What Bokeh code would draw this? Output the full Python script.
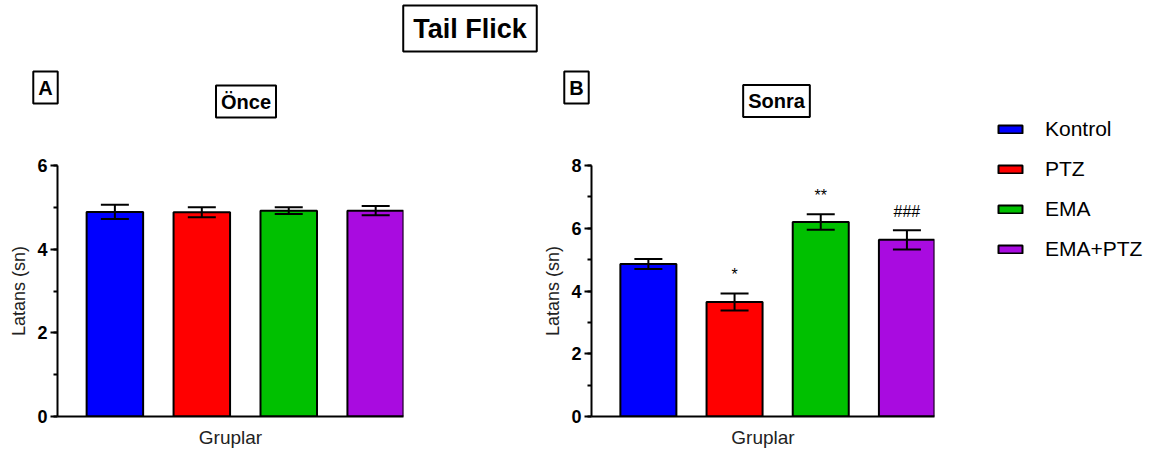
from bokeh.plotting import figure
from bokeh.models import (Range1d, SingleIntervalTicker, FixedTicker, Label,
                          Whisker, TeeHead, ColumnDataSource)
from bokeh.layouts import row, column
from bokeh.embed import file_html
from bokeh.resources import INLINE
from bokeh.core.properties import value

# ---------------- data ----------------
groups = ["Kontrol", "PTZ", "EMA", "EMA+PTZ"]
colors = ["#0000FF", "#FF0000", "#00C000", "#A90BE0"]
once_mean = [4.89, 4.88, 4.92, 4.92]
once_sem = [0.17, 0.12, 0.08, 0.11]
sonra_mean = [4.86, 3.65, 6.20, 5.63]
sonra_sem = [0.16, 0.27, 0.25, 0.31]
sonra_sig = ["", "*", "**", "###"]
once_sig = ["", "", "", ""]

FONT = "Liberation Sans"
XR = (-0.66, 3.32)
HEAD_H = 150
PANEL_H = 300
TOTAL_H = HEAD_H + PANEL_H


def make_panel(means, sems, sig, ymax, width, left, right):
    p = figure(width=width, height=PANEL_H, x_range=Range1d(*XR),
               y_range=Range1d(0, ymax), output_backend="svg",
               toolbar_location=None, min_border_left=left,
               min_border_right=right, min_border_top=15,
               min_border_bottom=33)
    p.outline_line_color = None
    p.grid.visible = False
    p.background_fill_color = None
    p.border_fill_color = None

    src = ColumnDataSource(dict(
        x=list(range(len(groups))), group=groups, color=colors,
        mean=means, upper=[m + s for m, s in zip(means, sems)],
        lower=[m - s for m, s in zip(means, sems)], sig=sig))

    p.vbar(x="x", top="mean", bottom=0, width=0.65, fill_color="color",
           line_color="black", line_width=2, source=src)

    w = Whisker(base="x", upper="upper", lower="lower", source=src,
                line_width=2, line_color="black", level="overlay",
                upper_head=TeeHead(size=28, line_width=2, line_color="black"),
                lower_head=TeeHead(size=28, line_width=2, line_color="black"))
    p.add_layout(w)

    p.text(x="x", y="upper", text="sig", source=src, text_align="center",
           text_baseline="middle", y_offset=-19,
           text_font=value(FONT), text_font_size="16px", text_color="black")

    ya = p.yaxis[0]
    ya.ticker = SingleIntervalTicker(interval=2, num_minor_ticks=2)
    ya.axis_line_width = 2
    ya.major_tick_line_width = 2
    ya.minor_tick_line_width = 2
    ya.major_tick_out = 7
    ya.major_tick_in = 0
    ya.minor_tick_out = 4
    ya.minor_tick_in = 0
    ya.major_label_standoff = 3
    ya.major_label_text_font = FONT
    ya.major_label_text_font_style = "bold"
    ya.major_label_text_font_size = "18px"
    ya.major_label_text_color = "black"
    ya.axis_label = "Latans (sn)"
    ya.axis_label_text_font = FONT
    ya.axis_label_text_font_style = "normal"
    ya.axis_label_text_font_size = "18px"
    ya.axis_label_text_color = "#222222"
    ya.axis_label_standoff = 5

    xa = p.xaxis[0]
    xa.ticker = FixedTicker(ticks=[])
    xa.axis_line_width = 2
    xa.major_tick_out = 0
    xa.major_tick_in = 0
    xa.minor_tick_out = 0
    xa.minor_tick_in = 0
    xa.axis_label = "Gruplar"
    xa.axis_label_text_font = FONT
    xa.axis_label_text_font_style = "normal"
    xa.axis_label_text_font_size = "19px"
    xa.axis_label_text_color = "#222222"
    xa.axis_label_standoff = 10
    return p


pA = make_panel(once_mean, once_sem, once_sig, 6, 540, 57, 137)
pB = make_panel(sonra_mean, sonra_sem, sonra_sig, 8, 420, 47, 26)

# ---------------- header with boxed titles ----------------
head = figure(width=960, height=HEAD_H, x_range=Range1d(0, 960),
              y_range=Range1d(HEAD_H, 0), output_backend="svg",
              toolbar_location=None, min_border=0,
              x_axis_location=None, y_axis_location=None)
head.outline_line_color = None
head.grid.visible = False

header_texts = [("Tail Flick", 469.5, 28, "27px", (10, 8)),
                ("A", 45, 87, "20px", 5),
                ("Önce", 245.5, 101, "20px", 5),
                ("B", 576, 87, "20px", 5),
                ("Sonra", 776, 100.5, "20px", 5)]
for txt, hx, hy, size, pad in header_texts:
    head.add_layout(Label(x=hx, y=hy, text=txt, text_font=FONT,
                          text_font_size=size, text_font_style="bold",
                          text_color="black",
                          text_align="center", text_baseline="middle",
                          border_line_color="black", border_line_width=2,
                          background_fill_color="white", padding=pad))

# ---------------- legend ----------------
# legend-only renderer: bar tops are NaN so no bar is drawn, only swatches
leg = figure(width=208, height=TOTAL_H, x_range=Range1d(0, 1),
             y_range=Range1d(0, 1), output_backend="svg",
             toolbar_location=None, min_border_left=35, min_border_top=117,
             min_border_right=0, min_border_bottom=0,
             x_axis_location=None, y_axis_location=None)
leg.outline_line_color = None
leg.grid.visible = False
leg.background_fill_color = None
leg.border_fill_color = None
leg_src = ColumnDataSource(dict(x=list(range(len(groups))), group=groups,
                                color=colors,
                                top=[float("nan")] * len(groups)))
leg.vbar(x="x", top="top", bottom=0, width=0.65, fill_color="color",
         line_color="black", line_width=2, source=leg_src,
         legend_field="group")
lg = leg.legend[0]
lg.location = "top_left"
lg.padding = 0
lg.margin = 0
lg.spacing = 16
lg.glyph_width = 30
lg.glyph_height = 10
lg.label_standoff = 20
lg.label_text_font = FONT
lg.label_text_font_size = "21px"
lg.label_text_color = "black"
lg.border_line_color = None
lg.background_fill_alpha = 0

layout = row(column(head, row(pA, pB, spacing=0), spacing=0), leg, spacing=0)
open("out.html", "w").write(file_html(layout, INLINE))
